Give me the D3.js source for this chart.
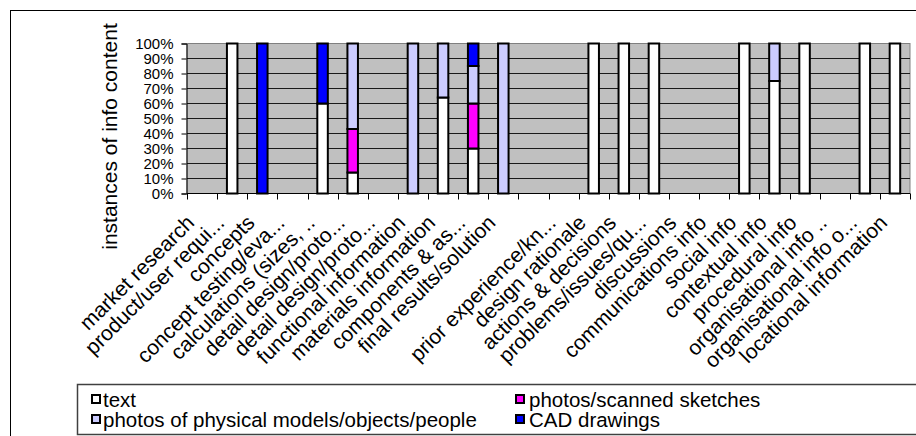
<!DOCTYPE html>
<html><head><meta charset="utf-8">
<script src="https://cdn.jsdelivr.net/npm/d3@7"></script>
<style>
html,body{margin:0;padding:0;background:#fff;overflow:hidden}
svg{display:block}
text{font-family:"Liberation Sans",Arial,sans-serif;fill:#000}
</style></head><body>
<svg id="chart" width="916" height="436"></svg>
<script>
// ---------- data ----------
const categories = [
  "market research", "product/user requi...", "concepts", "concept testing/eva...",
  "calculations (sizes, ..", "detail design/proto...", "detail design/proto...",
  "functional information", "materials information", "components & as...",
  "final results/solution", "", "prior experience/kn...", "design rationale",
  "actions & decisions", "problems/issues/qu...", "discussions", "communications info",
  "social info", "contextual info", "procedural info", "organisational info ..",
  "organisational info o...", "locational information"
];
const textShare     = [0,100,0,0,60,14,0,0,64,30,0,0,0,100,100,100,0,0,100,75,100,0,100,100];
const sketchShare   = [0,0,0,0,0,29,0,0,0,30,0,0,0,0,0,0,0,0,0,0,0,0,0,0];
const physicalShare = [0,0,0,0,0,57,0,100,36,25,100,0,0,0,0,0,0,0,0,25,0,0,0,0];
const cadShare      = [0,0,100,0,40,0,0,0,0,15,0,0,0,0,0,0,0,0,0,0,0,0,0,0];
const seriesNames = ["text", "photos/scanned sketches", "photos of physical models/objects/people", "CAD drawings"];
const yTicks = [0,10,20,30,40,50,60,70,80,90,100];
const yTitle = "instances of info content";

// ---------- styles / layout ----------
const seriesKeys = ["text","sketch","physical","cad"];
const colors = {text:"#FFFFFF", sketch:"#FF00FF", physical:"#CCCCFF", cad:"#0000FF"};
const P = {left:187, right:910, top:43.5, bottom:193.5};

const svg = d3.select("#chart");

// outer chart frame (extends beyond the picture)
svg.append("rect").attr("x",10.5).attr("y",10.5).attr("width",1000).attr("height",1000)
  .attr("fill","#fff").attr("stroke","#000").attr("stroke-width",1);

const idx = d3.range(categories.length);
const x = d3.scaleBand().domain(idx).range([P.left, P.right]).paddingInner(0.651).paddingOuter(0.3255);
const xCat = d3.scaleBand().domain(idx).range([P.left, P.right]).padding(0);
const y = d3.scaleLinear().domain([0,100]).range([P.bottom, P.top]);

// plot area
svg.append("rect").attr("x",P.left).attr("y",P.top).attr("width",P.right-P.left).attr("height",P.bottom-P.top)
  .attr("fill","#C0C0C0").attr("stroke","#808080").attr("stroke-width",1);

// gridlines
svg.append("g").selectAll("line").data(yTicks.filter(d=>d>0 && d<100)).join("line")
  .attr("x1",P.left).attr("x2",P.right).attr("y1",d=>y(d)).attr("y2",d=>y(d))
  .attr("stroke","#1a1a1a").attr("stroke-width",1);

// bars
const rows = idx.map(i => ({text:textShare[i], sketch:sketchShare[i], physical:physicalShare[i], cad:cadShare[i], i}));
const stacked = d3.stack().keys(seriesKeys)(rows);
svg.append("g").selectAll("g").data(stacked).join("g")
  .attr("fill", s => colors[s.key])
  .selectAll("rect").data(s => s.filter(d => d[1]-d[0] > 0)).join("rect")
  .attr("x", d => x(d.data.i)).attr("width", x.bandwidth())
  .attr("y", d => y(d[1])).attr("height", d => y(d[0]) - y(d[1]))
  .attr("stroke","#000").attr("stroke-width",2);

// y axis
const yAxis = svg.append("g").attr("transform",`translate(${P.left-0.5},0)`)
  .call(d3.axisLeft(y).tickValues(yTicks).tickFormat(d => d + "%").tickSize(5).tickPadding(8));
yAxis.select(".domain").attr("stroke","#000");
yAxis.selectAll(".tick line").attr("stroke","#000");
yAxis.selectAll(".tick text").attr("font-size","15px").attr("font-family","Liberation Sans, Arial, sans-serif").attr("fill","#000");

// x axis line and ticks at category boundaries
svg.append("line").attr("x1",P.left).attr("x2",P.right).attr("y1",P.bottom).attr("y2",P.bottom)
  .attr("stroke","#000").attr("stroke-width",1);
const bounds = idx.map(i => xCat(i)).concat([xCat.range()[1]]);
svg.append("g").selectAll("line").data(bounds).join("line")
  .attr("x1", d => Math.round(d)+0.5).attr("x2", d => Math.round(d)+0.5)
  .attr("y1", P.bottom).attr("y2", P.bottom+6).attr("stroke","#000").attr("stroke-width",1);

// category labels
svg.append("g").selectAll("text").data(idx).join("text")
  .attr("transform", i => `translate(${xCat(i) + xCat.bandwidth()/2 - 6.5},224) rotate(-45)`)
  .attr("text-anchor","end").attr("font-size","21px")
  .text(i => categories[i]);

// y title
svg.append("text").attr("transform",`translate(117,136.5) rotate(-90)`)
  .attr("text-anchor","middle").attr("font-size","21px").text(yTitle);

// legend
svg.append("rect").attr("x",77.5).attr("y",384.5).attr("width",900).attr("height",50)
  .attr("fill","#fff").attr("stroke","#404040").attr("stroke-width",1.5);
const legendPos = [[92,395,103,407],[516,395,529,407],[92,415,103,427],[516,415,529,427]];
const legendOrder = [0,1,2,3];
const lg = svg.append("g").selectAll("g").data(legendOrder).join("g");
lg.append("rect").attr("x",(d,k)=>legendPos[k][0]).attr("y",(d,k)=>legendPos[k][1])
  .attr("width",8).attr("height",8).attr("fill",d=>colors[seriesKeys[d]]).attr("stroke","#000").attr("stroke-width",2);
lg.append("text").attr("x",(d,k)=>legendPos[k][2]).attr("y",(d,k)=>legendPos[k][3])
  .attr("font-size","20.5px").text(d=>seriesNames[d]);
</script>
</body></html>
